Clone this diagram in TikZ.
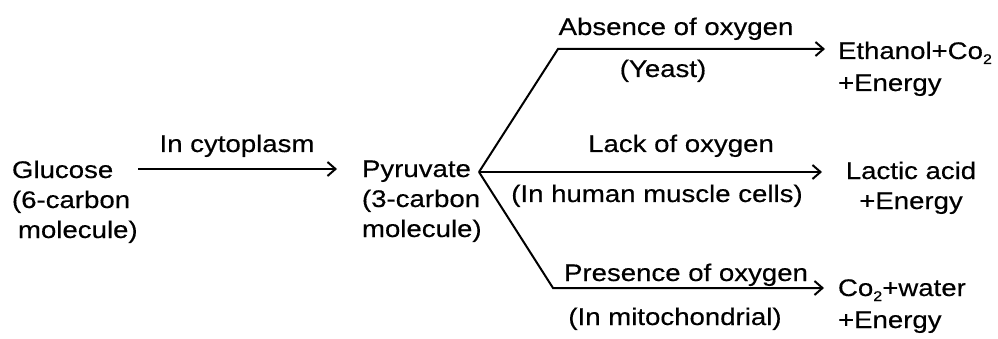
\documentclass[tikz,border=0pt]{standalone}
\usepackage{fontspec}
\setmainfont{Liberation Sans}[FakeStretch=1.15,FakeBold=0.4]
\usetikzlibrary{arrows.meta}
\newcommand{\subtwo}{\raisebox{-5pt}{\fontsize{14}{14}\selectfont 2}}
\begin{document}
\begin{tikzpicture}[x=1pt,y=-1pt,
  lbl/.style={font=\fontsize{24}{30}\selectfont, inner sep=0pt, outer sep=0pt},
  arr/.style={line width=2pt, -{Straight Barb[length=8pt,width=14pt,line width=2pt]}}]
\useasboundingbox (0,0) rectangle (998,339);
% left blocks (base anchor = last line)
\node[lbl, anchor=base west, align=left] (glucose) at (12,238) {Glucose\\(6-carbon\\\hspace*{6pt}molecule)};
\node[lbl, anchor=base west, align=left] (pyruvate) at (362,237) {Pyruvate\\(3-carbon\\molecule)};
\node[lbl, anchor=base] (cyto) at (237,152) {In cytoplasm};
\coordinate (gs) at (138,169);
\coordinate (pe) at (337,169);
\draw[arr] (gs) -- (pe);
% branch points
\coordinate (v) at (479,172);
\coordinate (t1) at (558,49);
\coordinate (t2) at (825,49);
\coordinate (m2) at (822,172);
\coordinate (b1) at (553,288);
\coordinate (b2) at (824,288);
\draw[arr, line join=miter] (v) -- (t1) -- (t2);
\draw[arr] (v) -- (m2);
\draw[arr] (v) -- (b1) -- (b2);
% branch labels
\node[lbl, anchor=base] (abs) at (676,35) {Absence of oxygen};
\node[lbl, anchor=base] (yeast) at (663,77) {(Yeast)};
\node[lbl, anchor=base] (lack) at (681,152) {Lack of oxygen};
\node[lbl, anchor=base] (human) at (657,202) {(In human muscle cells)};
\node[lbl, anchor=base] (pres) at (686,281) {Presence of oxygen};
\node[lbl, anchor=base] (mito) at (675,325) {(In mitochondrial)};
% products (base anchor = last line)
\node[lbl, anchor=base west, align=left] (eth) at (838,91) {Ethanol+Co\subtwo\\[2pt]+Energy};
\node[lbl, anchor=base, align=center] (lac) at (911,209) {Lactic acid\\+Energy};
\node[lbl, anchor=base west, align=left] (co2) at (838,328) {Co\subtwo+water\\[2pt]+Energy};
\end{tikzpicture}
\end{document}
